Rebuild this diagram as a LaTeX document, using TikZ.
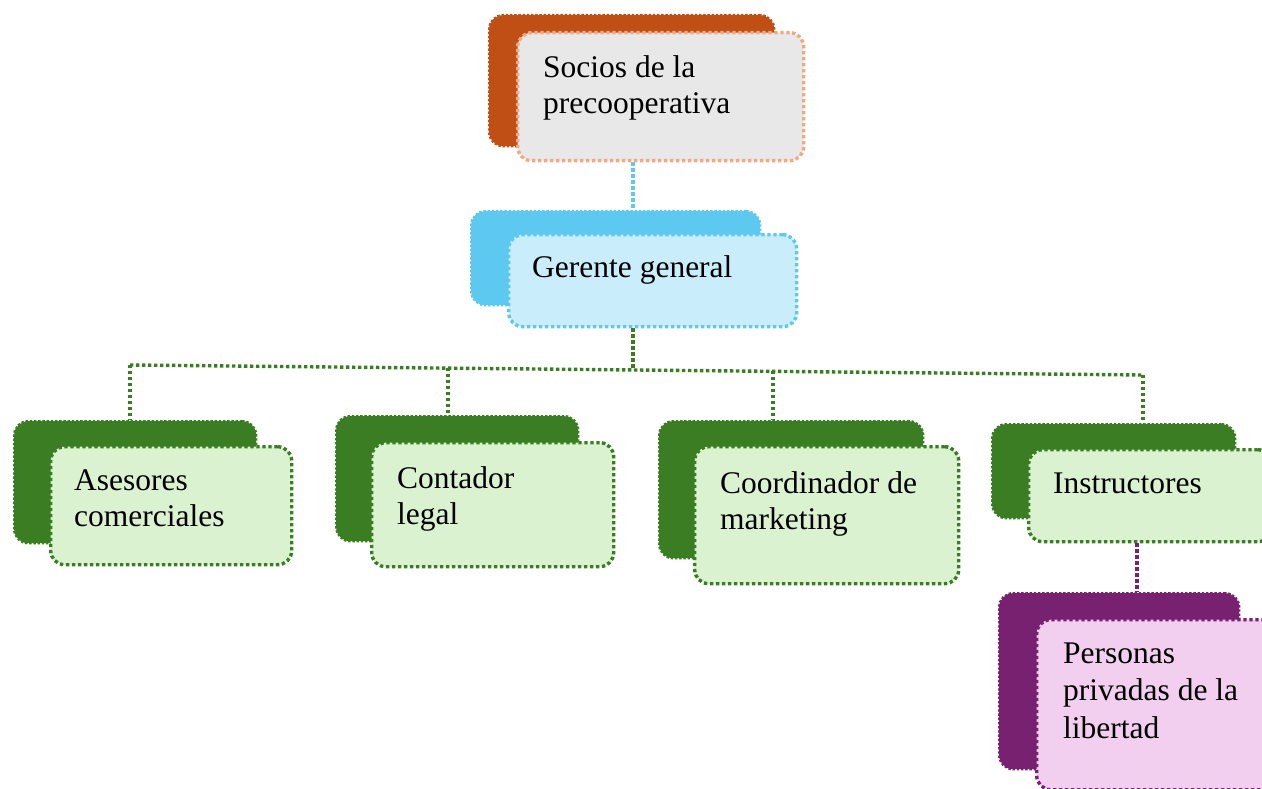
\documentclass[tikz,border=0pt]{standalone}
\usepackage{fontspec}
\setmainfont{Liberation Serif}
\definecolor{orD}{HTML}{C04F15}
\definecolor{orL}{HTML}{F1A983}
\definecolor{grF}{HTML}{E8E8E8}
\definecolor{blD}{HTML}{5DC8F0}
\definecolor{blF}{HTML}{CAEDFB}
\definecolor{gnD}{HTML}{3A7D22}
\definecolor{gnF}{HTML}{DAF2D0}
\definecolor{puD}{HTML}{782170}
\definecolor{puF}{HTML}{F2CEEF}
\tikzset{
  dotline/.style={line width=3.4pt, dash pattern=on 3.4pt off 2.6pt},
  backbox/.style={draw=#1, fill=#1, line width=2.4pt, dash pattern=on 2.4pt off 1.8pt,
    rounded corners=14pt, inner sep=0pt, anchor=north west},
  frontbox/.style 2 args={draw=#1, fill=#2, dotline, rounded corners=14pt,
    inner sep=0pt, anchor=north west},
  txt/.style={anchor=north west, inner sep=0pt, align=left,
    font=\fontsize{31.5}{36.5}\selectfont},
}
\newcommand{\fl}{\rule{0pt}{25pt}}
\begin{document}
\begin{tikzpicture}[x=1pt,y=-1pt]
\useasboundingbox (0,0) rectangle (1262,789);
\clip (0,0) rectangle (1262,789);
% coordinates for connectors
\coordinate (c0) at (633,0);
\coordinate (busc) at (633,370);
\coordinate (busL) at (130,365);
\coordinate (bus2) at (448,368);
\coordinate (bus3) at (773,371);
\coordinate (busR) at (1143,375);
\coordinate (p0) at (1137,0);
% Socios
\node[backbox=orD, minimum width=285pt, minimum height=131pt] (sB) at (488,14) {};
\node[frontbox={orL}{grF}, minimum width=286pt, minimum height=128pt] (sF) at (516,31) {};
\node[txt] (sT) at (543,52) {\fl Socios de la\\precooperativa};
% Gerente
\node[backbox=blD, minimum width=289pt, minimum height=94pt] (gB) at (470,210) {};
\node[frontbox={blD}{blF}, minimum width=288pt, minimum height=92pt] (gF) at (507,233) {};
\node[txt] (gT) at (532,252) {\fl Gerente general};
% connectors
\draw[dotline, blD] (c0 |- sF.south) -- (c0 |- gB.north);
\draw[dotline, gnD] (c0 |- gF.south) -- (busc);
\draw[dotline, gnD] (busL) -- (busR);
% Asesores
\node[backbox=gnD, minimum width=242pt, minimum height=122pt] (aB) at (13,420) {};
\node[frontbox={gnD}{gnF}, minimum width=241pt, minimum height=118pt] (aF) at (49,445) {};
\node[txt] (aT) at (74,465) {\fl Asesores\\comerciales};
% Contador
\node[backbox=gnD, minimum width=242pt, minimum height=125pt] (cB) at (335,415) {};
\node[frontbox={gnD}{gnF}, minimum width=242pt, minimum height=124pt] (cF) at (370,441) {};
\node[txt] (cT) at (397,463) {\fl Contador\\legal};
% Coordinador
\node[backbox=gnD, minimum width=264pt, minimum height=137pt] (kB) at (658,420) {};
\node[frontbox={gnD}{gnF}, minimum width=264pt, minimum height=137pt] (kF) at (693,445) {};
\node[txt] (kT) at (720,468) {\fl Coordinador de\\marketing};
% Instructores
\node[backbox=gnD, minimum width=243pt, minimum height=94pt] (iB) at (991,423) {};
\node[frontbox={gnD}{gnF}, minimum width=243pt, minimum height=92pt] (iF) at (1027,448) {};
\node[txt] (iT) at (1053,468) {\fl Instructores};
% Personas
\node[backbox=puD, minimum width=240pt, minimum height=176pt] (pB) at (998,592) {};
\node[frontbox={puD}{puF}, minimum width=242pt, minimum height=170pt] (pF) at (1035,618) {};
\node[txt, font=\fontsize{31.5}{37.5}\selectfont] (pT) at (1063,638) {\fl Personas\\privadas de la\\libertad};
% branches
\draw[dotline, gnD] (busL) -- (busL |- aB.north);
\draw[dotline, gnD] (bus2) -- (bus2 |- cB.north);
\draw[dotline, gnD] (bus3) -- (bus3 |- kB.north);
\draw[dotline, gnD] (busR) -- (busR |- iB.north);
\draw[dotline, puD] (p0 |- iF.south) -- (p0 |- pB.north);
\end{tikzpicture}
\end{document}
